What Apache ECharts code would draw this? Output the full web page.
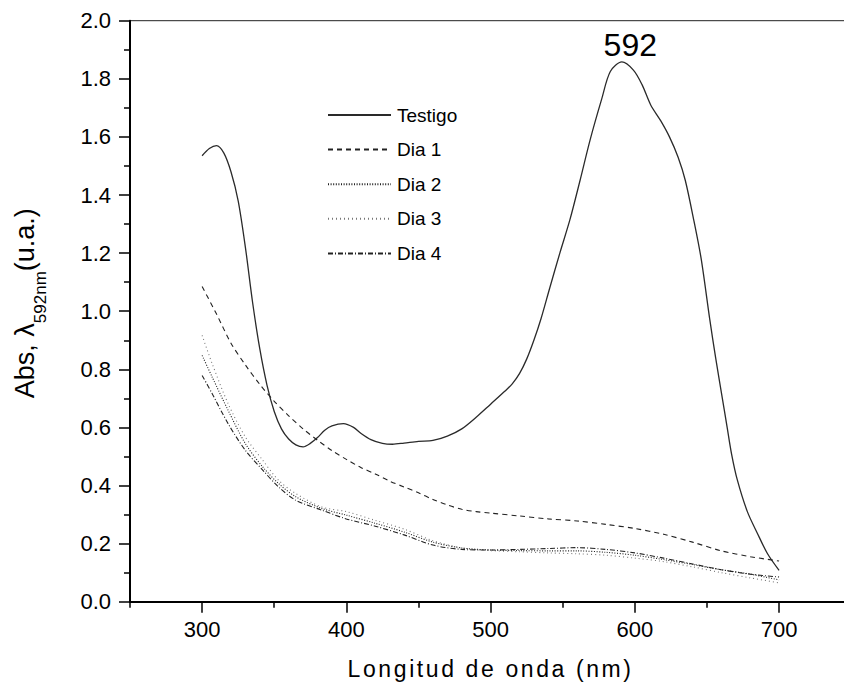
<!DOCTYPE html>
<html><head><meta charset="utf-8">
<script src="https://cdn.jsdelivr.net/npm/echarts@6/dist/echarts.min.js"></script>
<style>
html,body{margin:0;padding:0;background:#fff;}
#c{width:844px;height:692px;}
#c text[style*="23px"]{letter-spacing:2.6px;}
</style></head><body><div id="c"></div>
<script>
// ---- data ----
const seriesNames = ['Testigo', 'Dia 1', 'Dia 2', 'Dia 3', 'Dia 4'];
const xTickValues = [300, 400, 500, 600, 700];
const xMinorTickValues = [250, 350, 450, 550, 650, 750];
const peakLabel = '592';
const peakWavelength = 592;
const peakAbs = 1.858;

const testigoX = [300,305,310,315,320,325,330,335,340,345,350,355,360,365,370,375,380,385,390,398,405,410,417,425,432,440,450,460,470,480,490,500,510,515,520,525,530,535,541,548,555,562,569,577,583,591,599,605,611,618,624,630,635,641,646,652,656,660,664,667,671,678,685,692,700];
const testigoY = [1.535,1.560,1.570,1.545,1.48,1.38,1.22,1.03,0.87,0.745,0.655,0.595,0.56,0.54,0.533,0.545,0.565,0.59,0.605,0.613,0.600,0.580,0.558,0.545,0.542,0.546,0.552,0.555,0.570,0.595,0.635,0.680,0.725,0.75,0.785,0.835,0.90,0.975,1.08,1.20,1.315,1.45,1.59,1.73,1.825,1.858,1.83,1.78,1.71,1.655,1.60,1.53,1.45,1.31,1.18,0.97,0.84,0.72,0.60,0.51,0.42,0.31,0.235,0.165,0.108];

const dia1X = [300,310,320,330,340,350,360,370,380,390,400,410,420,430,440,450,460,470,480,490,500,520,540,560,580,600,620,640,660,680,700];
const dia1Y = [1.085,0.99,0.89,0.815,0.748,0.69,0.64,0.595,0.556,0.52,0.49,0.462,0.44,0.415,0.395,0.375,0.352,0.333,0.318,0.310,0.305,0.295,0.285,0.278,0.266,0.252,0.232,0.205,0.175,0.155,0.14];

const dia2X = [300,307,318,330,342,353,365,383,400,420,440,460,480,500,520,540,560,580,600,620,640,660,680,700];
const dia2Y = [0.848,0.773,0.659,0.544,0.464,0.407,0.361,0.321,0.298,0.27,0.24,0.205,0.185,0.178,0.176,0.175,0.175,0.17,0.16,0.145,0.128,0.11,0.095,0.075];

const dia3X = [300,307,318,330,342,353,365,383,400,420,440,460,480,500,520,540,560,580,600,620,640,660,680,700];
const dia3Y = [0.917,0.819,0.682,0.567,0.487,0.418,0.372,0.326,0.31,0.28,0.25,0.21,0.185,0.176,0.172,0.168,0.165,0.16,0.15,0.138,0.12,0.10,0.082,0.065];

const dia4X = [300,307,318,330,342,353,365,383,400,420,440,460,480,500,520,540,560,580,600,620,640,660,680,700];
const dia4Y = [0.779,0.716,0.613,0.521,0.453,0.395,0.349,0.315,0.285,0.26,0.23,0.195,0.18,0.178,0.18,0.183,0.186,0.18,0.168,0.15,0.13,0.11,0.095,0.085];

// ---- build ----
const zip = (xs, ys) => xs.map((x, i) => [x, ys[i]]);
const FONT = "'Liberation Sans', Arial, sans-serif";
const chart = echarts.init(document.getElementById('c'), null, {renderer: 'svg'});

const lineStyles = [
  {color: '#2a2a2a', width: 1.3, type: 'solid'},
  {color: '#222', width: 1.1, type: [5, 4]},
  {color: '#222', width: 1.1, type: [1, 1.6]},
  {color: '#777', width: 1.1, type: [1, 3]},
  {color: '#222', width: 1.1, type: [5, 2, 1, 2]}
];
const datasets = [zip(testigoX, testigoY), zip(dia1X, dia1Y), zip(dia2X, dia2Y), zip(dia3X, dia3Y), zip(dia4X, dia4Y)];

const series = seriesNames.map((name, i) => ({
  name: name,
  type: 'line',
  xAxisIndex: 0,
  yAxisIndex: 0,
  data: datasets[i],
  smooth: 0.3,
  symbol: 'none',
  lineStyle: lineStyles[i],
  itemStyle: {color: lineStyles[i].color},
  animation: false,
  z: 5 - i
}));
series[0].markPoint = {
  symbol: 'circle',
  symbolSize: 1,
  itemStyle: {color: 'rgba(0,0,0,0)'},
  data: [{coord: [peakWavelength, peakAbs]}],
  label: {
    show: true, position: 'top', distance: 0, offset: [7, 0],
    formatter: peakLabel, fontSize: 32, color: '#000', fontFamily: FONT
  }
};

const axisLineStyle = {color: '#000', width: 2};
const tickLineStyle = {color: '#000', width: 1.5};

chart.setOption({
  animation: false,
  backgroundColor: '#fff',
  grid: {left: 130, top: 20.7, width: 721.2, height: 581, outerBoundsMode: 'none', containLabel: false,
         show: true, borderColor: '#222', borderWidth: 1, backgroundColor: 'transparent'},
  legend: {
    orient: 'vertical',
    left: 327, top: 105, padding: 0,
    itemWidth: 63, itemHeight: 14, itemGap: 14.6,
    data: seriesNames,
    itemStyle: {color: 'rgba(0,0,0,0)', borderWidth: 0},
    textStyle: {fontSize: 19, color: '#000', fontFamily: FONT, lineHeight: 20, padding: [0, 0, 0, 1]}
  },
  xAxis: [{
    type: 'value', min: 250, max: 750,
    name: 'Longitud de onda (nm)', nameLocation: 'middle', nameGap: 56,
    nameTextStyle: {fontSize: 23, color: '#000', fontFamily: FONT},
    axisLine: {show: true, onZero: false, lineStyle: axisLineStyle},
    axisTick: {show: true, customValues: xTickValues, length: 11, lineStyle: tickLineStyle},
    axisLabel: {show: true, customValues: xTickValues, margin: 17, fontSize: 22, color: '#000', fontFamily: FONT},
    splitLine: {show: false}
  }, {
    type: 'value', min: 250, max: 750, position: 'bottom',
    axisLine: {show: false},
    axisTick: {show: true, customValues: xMinorTickValues, length: 6, lineStyle: tickLineStyle},
    axisLabel: {show: false},
    splitLine: {show: false}
  }],
  yAxis: {
    type: 'value', min: 0, max: 2, interval: 0.2,
    name: '{a|Abs, λ}{b|592nm}{a|(u.a.)}',
    nameLocation: 'middle', nameGap: 90, nameRotate: 90,
    nameTextStyle: {
      color: '#000', fontFamily: FONT, padding: [0, 0, 0, 16],
      rich: {
        a: {fontSize: 27, lineHeight: 30, color: '#000', fontFamily: FONT},
        b: {fontSize: 17, lineHeight: 17, padding: [30, 0, 0, 0], color: '#000', fontFamily: FONT}
      }
    },
    axisLine: {show: true, onZero: false, lineStyle: axisLineStyle},
    axisTick: {show: true, length: 11, lineStyle: tickLineStyle},
    minorTick: {show: true, splitNumber: 2, length: 6, lineStyle: tickLineStyle},
    axisLabel: {margin: 19, fontSize: 22, color: '#000', fontFamily: FONT, formatter: v => v.toFixed(1)},
    splitLine: {show: false},
    minorSplitLine: {show: false}
  },
  series: series
});
</script></body></html>
